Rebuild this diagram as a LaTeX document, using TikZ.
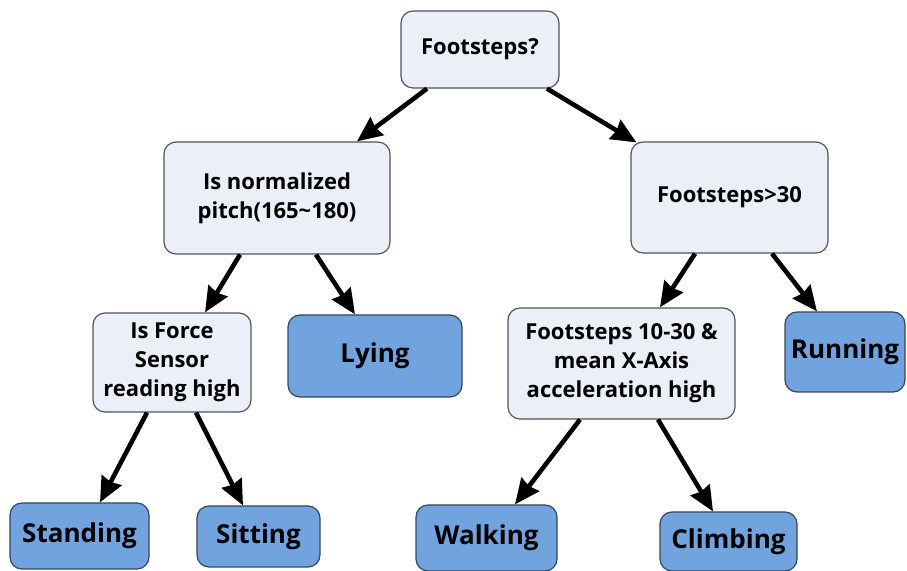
\documentclass[tikz,border=0pt]{standalone}
\usepackage{fontspec}
\setmainfont{Open Sans}
\usetikzlibrary{arrows.meta}
\usetikzlibrary{calc}

\definecolor{testfill}{RGB}{234,239,248}
\definecolor{testline}{RGB}{85,85,90}
\definecolor{leaffill}{RGB}{113,163,222}
\definecolor{leafline}{RGB}{55,70,90}

\begin{document}
\begin{tikzpicture}[
            x = 0.5pt, y = -0.5pt, % one unit = one pixel of the sketch
            > = {Stealth[length=12.5pt,width=11pt,inset=1pt]}, % arrow head style
            semithick
        ]

        \tikzstyle{test}=[
            draw = testline,
            line width = 0.6pt,
            fill = testfill,
            rounded corners = 6pt,
            align = center,
            inner sep = 2pt,
            font = \bfseries\fontsize{11}{14.5}\selectfont
        ]
        \tikzstyle{activity}=[
            test,
            draw = leafline,
            fill = leaffill,
            font = \bfseries\fontsize{13}{16}\selectfont
        ]
        \tikzstyle{branch}=[->, line width = 2.3pt]

        \useasboundingbox (0,0) rectangle (907,571);

	% root
        \node[test, minimum width=79pt, minimum height=38.5pt] (FS) at (480,49.5) {Footsteps?};

	% first level
        \node[test, minimum width=113pt, minimum height=56pt] (PITCH) at (277,198) {Is normalized\\pitch(165\textasciitilde180)};
        \node[test, minimum width=98.5pt, minimum height=55.5pt] (FS30) at (729.5,197.5) {Footsteps>30};

        \draw[branch] ($(FS.south)+(-53,0)$) -- ($(PITCH.north)+(80,0)$);
        \draw[branch] ($(FS.south)+(67,0)$) -- ($(FS30.north west)+(6,1)$);

	% second level
        \node[test, minimum width=79pt, minimum height=49.5pt] (FORCE) at (172,362.5) {Is Force\\Sensor\\reading high};
        \node[activity, minimum width=87pt, minimum height=41pt] (LY) at (375,356) {Lying};
        \node[test, minimum width=113.5pt, minimum height=55.5pt] (ACC) at (621.5,363.5) {Footsteps 10-30 \&\\mean X-Axis\\acceleration high};
        \node[activity, minimum width=60pt, minimum height=40pt] (RUN) at (845,352) {Running};

        \draw[branch] ($(PITCH.south)+(-37,0)$) -- ($(FORCE.north)+(33,0)$);
        \draw[branch] ($(PITCH.south)+(39,0)$) -- ($(LY.north)+(-20,0)$);
        \draw[branch] ($(FS30.south)+(-34.5,0)$) -- ($(ACC.north)+(38.5,0)$);
        \draw[branch] ($(FS30.south)+(42.5,0)$) -- ($(RUN.north)+(-28,0)$);

	% leaves
        \node[activity, minimum width=69.5pt, minimum height=33pt] (ST) at (79.5,536) {Standing};
        \node[activity, minimum width=61.5pt, minimum height=30.5pt] (SI) at (258.5,536.5) {Sitting};
        \node[activity, minimum width=70.5pt, minimum height=33pt] (WA) at (486.5,538) {Walking};
        \node[activity, minimum width=68.5pt, minimum height=29.5pt] (CL) at (728.5,541.5) {Climbing};

        \draw[branch] ($(FORCE.south)+(-25,0)$) -- ($(ST.north)+(20.5,0)$);
        \draw[branch] ($(FORCE.south)+(24,0)$) -- ($(SI.north)+(-15.5,0)$);
        \draw[branch] ($(ACC.south)+(-41.5,0)$) -- ($(WA.north)+(28.5,0)$);
        \draw[branch] ($(ACC.south)+(36.5,0)$) -- ($(CL.north)+(-15.5,0)$);

  \end{tikzpicture}
\end{document}
